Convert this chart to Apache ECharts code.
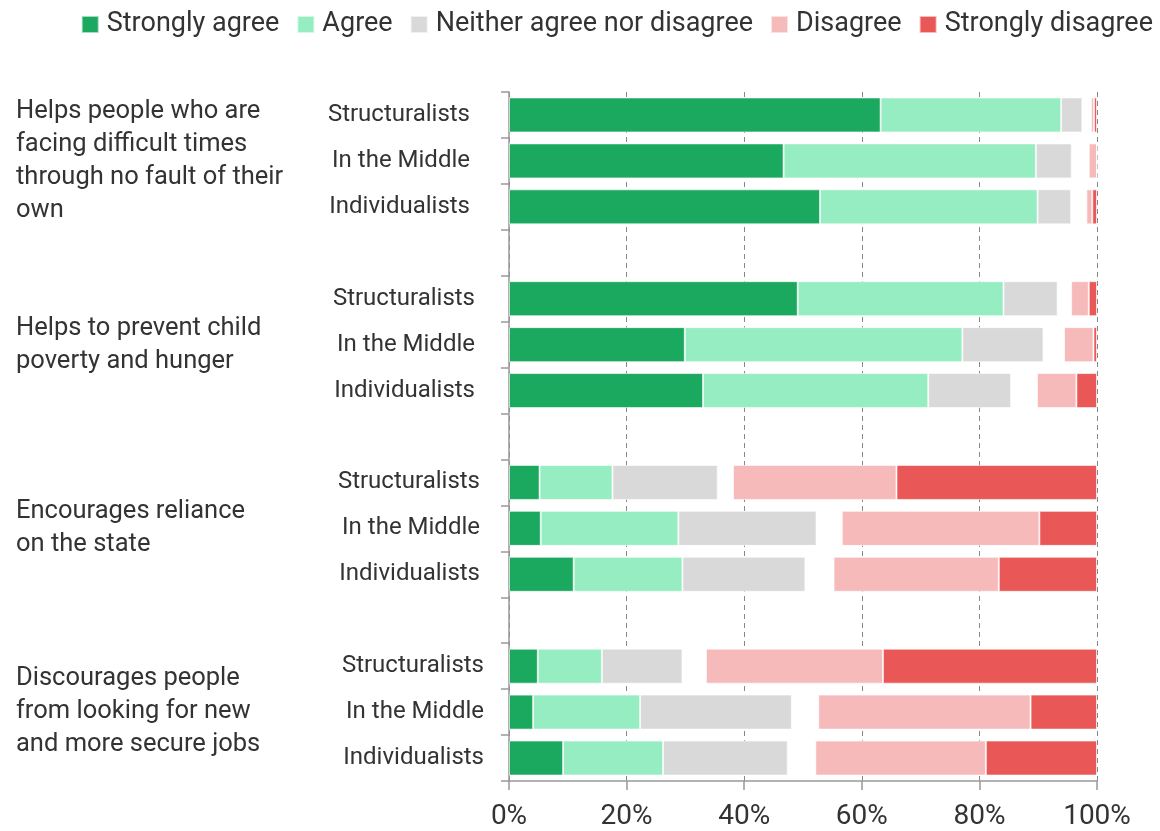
<!DOCTYPE html>
<html>
<head>
<meta charset="utf-8">
<script src="https://cdn.jsdelivr.net/npm/echarts@6/dist/echarts.min.js"></script>
<style>html,body{margin:0;padding:0;background:#fff}#c{width:1160px;height:831px}</style>
</head>
<body>
<div id="c"></div>
<script>
const statements = [
  'Helps people who are\nfacing difficult times\nthrough no fault of their\nown',
  'Helps to prevent child\npoverty and hunger',
  'Encourages reliance\non the state',
  'Discourages people\nfrom looking for new\nand more secure jobs'
];
const groups = ['Structuralists', 'In the Middle', 'Individualists'];
const seriesNames = ['Strongly agree', 'Agree', 'Neither agree nor disagree', 'Disagree', 'Strongly disagree'];
const stronglyAgree    = [63.2, 46.7, 52.9, 49.1, 29.9, 33.0, 5.2, 5.4, 11.0, 4.9, 4.1, 9.2];
const agree            = [30.7, 42.9, 37.0, 35.0, 47.2, 38.3, 12.4, 23.4, 18.5, 10.9, 18.2, 17.0];
const neither          = [3.6, 6.1, 5.7, 9.2, 13.8, 14.1, 17.9, 23.5, 20.9, 13.7, 25.8, 21.2];
const noAnswer         = [1.5, 2.9, 2.6, 2.3, 3.5, 4.4, 2.6, 4.3, 4.8, 4.0, 4.5, 4.7];
const disagree         = [0.5, 1.4, 1.0, 3.0, 5.0, 6.7, 27.8, 33.6, 28.1, 30.1, 36.1, 29.0];
const stronglyDisagree = [0.5, 0.0, 0.8, 1.4, 0.6, 3.5, 34.1, 9.8, 16.7, 36.4, 11.3, 18.9];
const xTicks = [0, 20, 40, 60, 80, 100];

const colors = ['#1ba85f', '#96edc1', '#d9d9d9', '#f6baba', '#ea5757'];
const FONT = 'Roboto';

// Build 15 rows: 3 per statement plus a blank spacer row between statements
const rowLabels = [], rowGroup = [], statementLabels = [], rowIndexMap = [];
statements.forEach((s, si) => {
  groups.forEach((g, gi) => {
    rowLabels.push(g); rowGroup.push(si);
    statementLabels.push(gi === 1 ? s : '');
    rowIndexMap.push(si * 3 + gi);
  });
  if (si < statements.length - 1) {
    rowLabels.push(''); rowGroup.push(si); statementLabels.push(''); rowIndexMap.push(-1);
  }
});
const expand = arr => rowIndexMap.map(i => i < 0 ? '-' : arr[i]);

const valueSets = [stronglyAgree, agree, neither, noAnswer, disagree, stronglyDisagree];
const names = ['Strongly agree', 'Agree', 'Neither agree nor disagree', 'No answer', 'Disagree', 'Strongly disagree'];
const cols = [colors[0], colors[1], colors[2], 'rgba(0,0,0,0)', colors[3], colors[4]];

const series = valueSets.map((v, k) => ({
  name: names[k],
  type: 'bar',
  stack: 'all',
  barWidth: 35,
  yAxisIndex: 0,
  data: expand(v),
  silent: true,
  itemStyle: {
    color: cols[k],
    borderColor: k === 3 ? 'rgba(0,0,0,0)' : 'rgba(255,255,255,0.6)',
    borderWidth: k === 3 ? 0 : 1
  }
}));

const labelPad = [14, 9, 4, 0];
const rich = {};
labelPad.forEach((p, i) => {
  rich['g' + i] = { fontSize: 24, color: '#333', fontFamily: FONT, padding: [0, p, 0, 0] };
});

const chart = echarts.init(document.getElementById('c'), null, { renderer: 'canvas' });
chart.setOption({
  animation: false,
  backgroundColor: '#fff',
  textStyle: { fontFamily: FONT, color: '#333' },
  legend: {
    data: seriesNames,
    right: 2,
    top: 6,
    itemWidth: 17,
    itemHeight: 17,
    itemGap: 17,
    icon: 'rect',
    textStyle: { fontSize: 27, color: '#333', fontFamily: FONT, padding: [0, 0, 0, 3] }
  },
  grid: { left: 509, right: 63, top: 92, bottom: 49, containLabel: false },
  xAxis: {
    type: 'value',
    min: xTicks[0],
    max: xTicks[xTicks.length - 1],
    interval: 20,
    axisLine: { show: true, lineStyle: { color: '#999', width: 1.5 } },
    axisTick: { show: true, length: 9, lineStyle: { color: '#999', width: 1.5 } },
    axisLabel: { formatter: '{value}%', fontSize: 28, color: '#333', margin: 22, fontFamily: FONT },
    splitLine: { show: true, lineStyle: { color: '#888', type: [5, 4], width: 1 } }
  },
  yAxis: [
    {
      type: 'category',
      inverse: true,
      data: rowLabels,
      axisLine: { show: true, lineStyle: { color: '#999', width: 1.5 } },
      axisTick: { show: true, length: 8, interval: 0, lineStyle: { color: '#999', width: 1.5 } },
      axisLabel: {
        interval: 0,
        margin: 25,
        formatter: (v, i) => v ? '{g' + rowGroup[i] + '|' + v + '}' : '',
        rich: rich
      }
    },
    {
      type: 'category',
      inverse: true,
      position: 'left',
      data: statementLabels,
      axisLine: { show: false },
      axisTick: { show: false },
      axisLabel: {
        interval: 0,
        align: 'left',
        margin: 493,
        fontSize: 25.5,
        lineHeight: 33,
        color: '#333',
        fontFamily: FONT,
        padding: [7, 0, 0, 0]
      }
    }
  ],
  series: series
});
</script>
</body>
</html>
